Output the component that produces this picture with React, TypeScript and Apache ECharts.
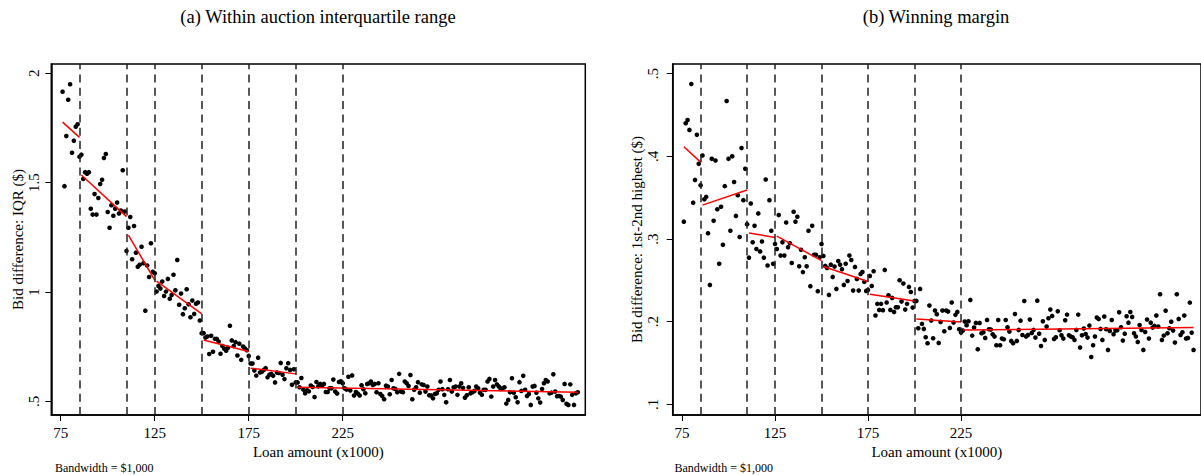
import React, { useEffect, useRef } from "react";
import * as echarts from "echarts";

// ---- data ----
const firstBin = 76; // loan amount bins ($1,000), one point per bin
const cutoffs = [85, 110, 125, 150, 175, 200, 225];
const xTicks = [75, 125, 175, 225];
const yTicksA = [0.5, 1, 1.5, 2];
const yTicksB = [0.1, 0.2, 0.3, 0.4, 0.5];

const iqrValues = [
  1.916, 1.484, 1.713, 1.879, 1.95, 1.637, 1.692, 1.756, 1.767, 1.619,
  1.628, 1.517, 1.548, 1.541, 1.548, 1.381, 1.354, 1.448, 1.354, 1.43,
  1.494, 1.513, 1.613, 1.631, 1.366, 1.294, 1.397, 1.349, 1.381, 1.409,
  1.359, 1.373, 1.557, 1.368, 1.188, 1.294, 1.343, 1.15, 1.302, 1.18,
  1.116, 1.125, 1.207, 1.132, 0.915, 1.121, 1.069, 1.223, 1.093, 1.086,
  1.002, 1.028, 1.016, 1.048, 0.982, 1.002, 1.06, 0.969, 0.987, 1.079,
  1.008, 1.147, 0.942, 0.993, 0.899, 0.926, 1.013, 0.944, 0.885, 0.961,
  0.9, 0.947, 0.952, 0.87, 0.812, 0.812, 0.792, 0.797, 0.717, 0.8,
  0.727, 0.786, 0.786, 0.774, 0.718, 0.753, 0.741, 0.732, 0.745, 0.846,
  0.779, 0.753, 0.771, 0.71, 0.764, 0.69, 0.751, 0.742, 0.734, 0.708,
  0.673, 0.673, 0.641, 0.618, 0.7, 0.632, 0.636, 0.644, 0.652, 0.61,
  0.622, 0.626, 0.617, 0.587, 0.632, 0.63, 0.676, 0.622, 0.602, 0.652,
  0.675, 0.644, 0.576, 0.647, 0.587, 0.587, 0.565, 0.607, 0.554, 0.537,
  0.551, 0.546, 0.573, 0.566, 0.52, 0.589, 0.569, 0.58, 0.573, 0.58,
  0.543, 0.543, 0.56, 0.56, 0.6, 0.545, 0.536, 0.589, 0.592, 0.583,
  0.56, 0.554, 0.613, 0.55, 0.619, 0.527, 0.543, 0.536,
  0.527, 0.574, 0.556, 0.537, 0.58, 0.583, 0.591, 0.575, 0.58, 0.542,
  0.583, 0.534, 0.525, 0.51, 0.572, 0.568, 0.533, 0.598, 0.56, 0.557,
  0.542, 0.626, 0.545, 0.542, 0.591, 0.583, 0.571, 0.621, 0.51,
  0.553, 0.565, 0.588, 0.54, 0.578, 0.575, 0.545, 0.568, 0.528, 0.527,
  0.514, 0.534, 0.537, 0.553, 0.591, 0.556, 0.53, 0.496, 0.556, 0.598,
  0.545, 0.565, 0.568, 0.53, 0.568, 0.583, 0.562, 0.517, 0.528,
  0.565, 0.537, 0.542, 0.548, 0.568, 0.56, 0.54, 0.53, 0.553, 0.553,
  0.591, 0.603, 0.522, 0.568, 0.598, 0.578, 0.568, 0.557, 0.56, 0.565,
  0.49, 0.507, 0.542, 0.606, 0.54, 0.519, 0.496, 0.588, 0.548, 0.617,
  0.553, 0.525, 0.534, 0.484, 0.568, 0.571, 0.54, 0.514, 0.495,
  0.557, 0.583, 0.598, 0.591, 0.537, 0.54, 0.624, 0.545, 0.524, 0.525,
  0.522, 0.507, 0.58, 0.489, 0.484, 0.578, 0.53, 0.484, 0.537, 0.542,
];

const marginValues = [
  0.321, 0.44, 0.444, 0.432, 0.4875, 0.344, 0.3715, 0.426, 0.391, 0.365,
  0.401, 0.348, 0.351, 0.307, 0.2445, 0.397, 0.322, 0.395, 0.336, 0.27,
  0.339, 0.293, 0.364, 0.467, 0.397, 0.31, 0.4, 0.369, 0.328, 0.353,
  0.3025, 0.41, 0.347, 0.385, 0.318, 0.2775, 0.343, 0.296, 0.316, 0.288,
  0.331, 0.285, 0.297, 0.2775, 0.372, 0.268, 0.347, 0.31, 0.27, 0.294,
  0.288, 0.329, 0.28, 0.296, 0.28, 0.32, 0.29, 0.295, 0.271, 0.333,
  0.321, 0.327, 0.267, 0.287, 0.26, 0.278, 0.267, 0.31, 0.243, 0.316,
  0.281, 0.281, 0.237, 0.278, 0.294, 0.2796, 0.2675, 0.265, 0.2324, 0.269,
  0.2542, 0.2667, 0.2397, 0.2735, 0.269, 0.2635, 0.2445, 0.27, 0.2493, 0.28,
  0.2747, 0.2377, 0.2663, 0.2518, 0.2377, 0.2578, 0.2602, 0.2482, 0.2373, 0.2385,
  0.2554, 0.2433, 0.261, 0.2075, 0.2216, 0.2143, 0.2216, 0.214, 0.2627, 0.2232,
  0.232, 0.2143, 0.2288, 0.2119, 0.2175, 0.2175, 0.2502, 0.2244, 0.2461, 0.2147,
  0.2216, 0.2421, 0.236, 0.2171, 0.2252, 0.2252, 0.1921, 0.2397, 0.1974, 0.1913,
  0.1812, 0.174, 0.2195, 0.2014, 0.18, 0.2135, 0.209, 0.1744, 0.1998, 0.2135,
  0.1885, 0.2135, 0.2123, 0.1925, 0.2232, 0.199, 0.2083, 0.2119, 0.1909, 0.1869,
  0.1893, 0.2002, 0.1958, 0.2006, 0.2264, 0.1832, 0.193, 0.1986, 0.1667, 0.1986,
  0.1861, 0.1873, 0.1804, 0.2022, 0.1909, 0.1905, 0.1849, 0.182, 0.1716,
  0.2021, 0.1715, 0.1796, 0.1788, 0.2021, 0.1933, 0.1881, 0.1768, 0.174, 0.2094,
  0.1768, 0.1901, 0.2013, 0.184, 0.2251, 0.182, 0.184, 0.2026, 0.1864, 0.1901,
  0.1808, 0.2255, 0.1856, 0.1707, 0.2005, 0.178, 0.1941, 0.2042, 0.2147, 0.207,
  0.1792, 0.1812, 0.2126, 0.1897, 0.1836, 0.1796, 0.2018, 0.2086, 0.1836, 0.182,
  0.1812, 0.178, 0.1901, 0.2086, 0.1687, 0.1836, 0.1917, 0.1852, 0.1808, 0.1953,
  0.1574, 0.1715, 0.182, 0.205, 0.2034, 0.1913, 0.178, 0.2062, 0.1909, 0.1659,
  0.1889, 0.2021, 0.1848, 0.1893, 0.1897, 0.2114, 0.1933, 0.1772, 0.1856, 0.2066,
  0.1989, 0.2118, 0.2058, 0.186, 0.182, 0.1756, 0.1961, 0.1901, 0.1659, 0.1877,
  0.2026, 0.1796, 0.1989, 0.1929, 0.1949, 0.2074, 0.1941, 0.2332, 0.178, 0.1832,
  0.2134, 0.186, 0.1921, 0.2001, 0.1893, 0.1748, 0.2332, 0.2034, 0.184, 0.1872,
  0.2074, 0.1796, 0.1804, 0.2231, 0.1868, 0.1659,
];

// fitted segments (start/end points) between cutoffs
const iqrFits = [
  [[76, 1.777], [85, 1.707]],
  [[86, 1.535], [110, 1.345]],
  [[111, 1.26], [125, 1.055]],
  [[126, 1.05], [150, 0.9]],
  [[151, 0.781], [175, 0.728]],
  [[176, 0.652], [200, 0.626]],
  [[201, 0.565], [350, 0.542]],
];
const marginFits = [
  [[76, 0.4117], [85, 0.393]],
  [[86, 0.341], [110, 0.3594]],
  [[111, 0.3074], [125, 0.302]],
  [[126, 0.3036], [150, 0.2739]],
  [[151, 0.2667], [175, 0.2486]],
  [[176, 0.2332], [200, 0.2252]],
  [[201, 0.2034], [225, 0.1998]],
  [[226, 0.19], [350, 0.1929]],
];

const toPoints = (values: number[]) => values.map((v, i) => [firstBin + i, v]);
const fmt = (v: number) => String(+v.toFixed(2)).replace(/^0\./, ".");

export default function App() {
  const ref = useRef<HTMLDivElement>(null);
  useEffect(() => {
    const chart = echarts.init(ref.current!, null, { renderer: "svg", width: 1201, height: 475 });
    const serif = "'Liberation Serif', 'Times New Roman', serif";
    const txt = { color: "#000", fontFamily: serif, fontSize: 15 };

    const makeX = (gridIndex: number) => ({
      type: "value",
      gridIndex,
      min: 70,
      max: 354,
      axisLine: { show: true, onZero: false, lineStyle: { color: "#000", width: 1.5 } },
      axisTick: { show: true, customValues: xTicks, length: 6, lineStyle: { color: "#000", width: 1 } },
      axisLabel: { customValues: xTicks, margin: 10, ...txt },
      splitLine: { show: false },
      name: "Loan amount (x1000)",
      nameLocation: "middle",
      nameGap: 26,
      nameTextStyle: { ...txt },
    });
    const makeY = (gridIndex: number, min: number, max: number, ticks: number[], name: string, margin: number, gap: number) => ({
      type: "value",
      gridIndex,
      min,
      max,
      axisLine: { show: true, onZero: false, lineStyle: { color: "#000", width: 1.5 } },
      axisTick: { show: true, customValues: ticks, length: 6, lineStyle: { color: "#000", width: 1 } },
      axisLabel: { customValues: ticks, rotate: 90, margin, formatter: (v: number) => fmt(v), ...txt },
      splitLine: { show: false },
      name,
      nameLocation: "middle",
      nameRotate: 90,
      nameGap: gap,
      nameTextStyle: { ...txt },
    });

    const dashed = {
      silent: true,
      symbol: ["none", "none"],
      label: { show: false },
      lineStyle: { color: "#222", width: 1.5, type: [8, 5.3], opacity: 1 },
      data: cutoffs.map((c) => ({ xAxis: c })),
    };
    const scatter = (idx: number, values: number[]) => ({
      type: "scatter",
      xAxisIndex: idx,
      yAxisIndex: idx,
      data: toPoints(values),
      symbolSize: 4.6,
      itemStyle: { color: "#000", opacity: 1 },
      markLine: dashed,
      z: 3,
    });
    const fits = (idx: number, segs: number[][][]) =>
      segs.map((seg) => ({
        type: "line",
        xAxisIndex: idx,
        yAxisIndex: idx,
        data: seg,
        symbol: "none",
        lineStyle: { color: "#ff0000", width: 1.5 },
        z: 4,
      }));

    const textEl = (x: number, y: number, text: string, size: number, align: string) => ({
      type: "text",
      x,
      y,
      style: {
        text,
        fill: "#000",
        font: `${size}px 'Liberation Serif', 'Times New Roman', serif`,
        textAlign: align,
        align,
        textVerticalAlign: "middle",
        verticalAlign: "middle",
      },
    });

    chart.setOption({
      animation: false,
      backgroundColor: "#fff",
      textStyle: { fontFamily: serif },
      grid: [
        { left: 51.3, top: 64, width: 534, height: 351, show: true, borderColor: "#000", borderWidth: 1.5 },
        { left: 672.7, top: 64, width: 534, height: 351, show: true, borderColor: "#000", borderWidth: 1.5 },
      ],
      xAxis: [makeX(0), makeX(1)],
      yAxis: [
        makeY(0, 0.438, 2.0425, yTicksA, "Bid difference: IQR ($)", 10, 23),
        makeY(1, 0.0872, 0.5117, yTicksB, "Bid difference: 1st-2nd highest ($)", 12.5, 24.5),
      ],
      series: [scatter(0, iqrValues), ...fits(0, iqrFits), scatter(1, marginValues), ...fits(1, marginFits)],
      graphic: [
        textEl(318, 17, "(a) Within auction interquartile range", 18.5, "center"),
        textEl(936, 17, "(b) Winning margin", 18.5, "center"),
        textEl(55, 468, "Bandwidth = $1,000", 12, "left"),
        textEl(674.5, 468, "Bandwidth = $1,000", 12, "left"),
      ],
    });
    return () => chart.dispose();
  }, []);
  return (
    <div
      ref={ref}
      style={{ position: "fixed", left: 0, top: 0, width: 1201, height: 475, overflow: "hidden", background: "#fff" }}
    />
  );
}
